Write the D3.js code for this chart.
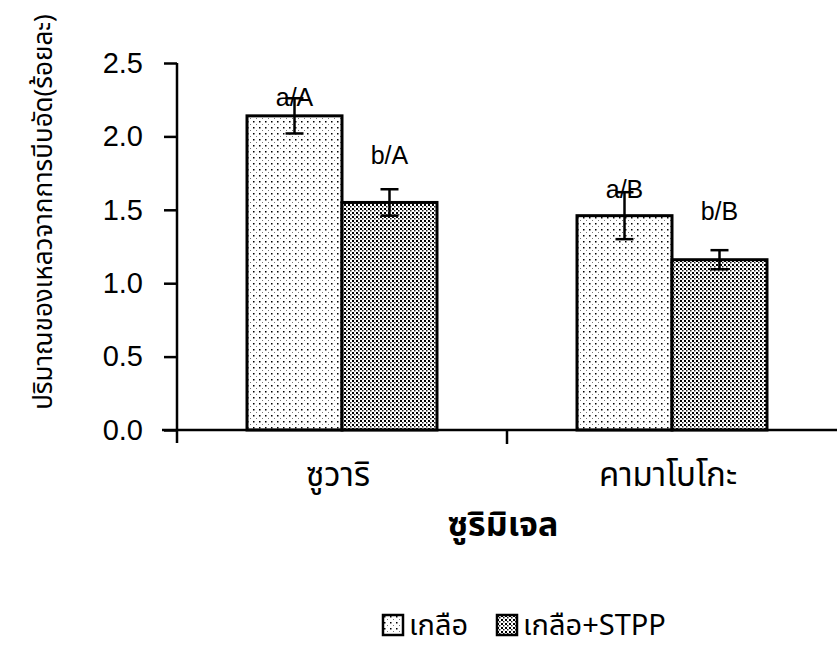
<!DOCTYPE html>
<html>
<head>
<meta charset="utf-8">
<script src="https://cdn.jsdelivr.net/npm/d3@7"></script>
<style>
  body { margin: 0; background: #fff; }
  text { font-family: "Liberation Sans", Arial, sans-serif; }
  .thai { font-family: "Noto Sans Thai", "Tahoma", "DejaVu Sans", sans-serif; }
</style>
</head>
<body>
<script>
// data
var categories = ["ซูวาริ", "คามาโบโกะ"];
var series = ["เกลือ", "เกลือ+STPP"];
var salt = [2.14, 1.46];
var saltErr = [0.12, 0.16];
var stpp = [1.55, 1.16];
var stppErr = [0.09, 0.065];
var saltLabels = ["a/A", "a/B"];
var stppLabels = ["b/A", "b/B"];
var saltLabelAt = [2.21, 1.58];   // height of the letter label, in axis units
var stppLabelAt = [1.81, 1.43];
var yTicks = [0, 0.5, 1.0, 1.5, 2.0, 2.5];

var w = 837, h = 656;
var mLeft = 177, mRight = 837, mTop = 63, mBottom = 430;

var svg = d3.select("body").append("svg")
	.attr("width", w)
	.attr("height", h);

// patterns
var defs = svg.append("defs");
var p1 = defs.append("pattern").attr("id", "sparse")
	.attr("patternUnits", "userSpaceOnUse")
	.attr("width", 6).attr("height", 6);
p1.append("rect").attr("width", 6).attr("height", 6).attr("fill", "#fff");
p1.append("rect").attr("x", 1).attr("y", 1).attr("width", 1.5).attr("height", 1.5).attr("fill", "#000");
p1.append("rect").attr("x", 4).attr("y", 4).attr("width", 1).attr("height", 1).attr("fill", "#777");

var p2 = defs.append("pattern").attr("id", "dense")
	.attr("patternUnits", "userSpaceOnUse")
	.attr("width", 4).attr("height", 4);
p2.append("rect").attr("width", 4).attr("height", 4).attr("fill", "#fff");
p2.append("rect").attr("x", 0).attr("y", 0).attr("width", 2).attr("height", 2).attr("fill", "#000");
p2.append("rect").attr("x", 2).attr("y", 2).attr("width", 1.5).attr("height", 1.5).attr("fill", "#222");

var fills = ["url(#sparse)", "url(#dense)"];

// scales
var x0 = d3.scaleBand().domain(categories).range([mLeft, mRight]);
var x1 = d3.scaleBand().domain(series).range([0, x0.bandwidth()]).paddingInner(0).paddingOuter(0.737);
var y = d3.scaleLinear().domain([0, 2.5]).range([mBottom, mTop]);

var rows = categories.map(function (c, i) {
	return [
		{cat: c, s: series[0], v: salt[i], e: saltErr[i], lab: saltLabels[i], at: saltLabelAt[i], f: fills[0]},
		{cat: c, s: series[1], v: stpp[i], e: stppErr[i], lab: stppLabels[i], at: stppLabelAt[i], f: fills[1]}
	];
});
var flat = [].concat.apply([], rows);

// bars
svg.selectAll("rect.bar")
	.data(flat)
	.enter()
	.append("rect")
	.attr("class", "bar")
	.attr("x", function (d) { return x0(d.cat) + x1(d.s); })
	.attr("y", function (d) { return y(d.v); })
	.attr("width", x1.bandwidth())
	.attr("height", function (d) { return y(0) - y(d.v); })
	.attr("fill", function (d) { return d.f; })
	.attr("stroke", "#000")
	.attr("stroke-width", 3);

// error bars
function cx(d) { return x0(d.cat) + x1(d.s) + x1.bandwidth() / 2; }
var eb = svg.selectAll("g.err")
	.data(flat)
	.enter()
	.append("g")
	.attr("class", "err")
	.attr("stroke", "#000")
	.attr("stroke-width", 2.5);
eb.append("line")
	.attr("x1", cx).attr("x2", cx)
	.attr("y1", function (d) { return y(d.v + d.e); })
	.attr("y2", function (d) { return y(d.v - d.e); });
eb.append("line")
	.attr("x1", function (d) { return cx(d) - 9; }).attr("x2", function (d) { return cx(d) + 9; })
	.attr("y1", function (d) { return y(d.v + d.e); })
	.attr("y2", function (d) { return y(d.v + d.e); });
eb.append("line")
	.attr("x1", function (d) { return cx(d) - 9; }).attr("x2", function (d) { return cx(d) + 9; })
	.attr("y1", function (d) { return y(d.v - d.e); })
	.attr("y2", function (d) { return y(d.v - d.e); });

// letter labels
svg.selectAll("text.lab")
	.data(flat)
	.enter()
	.append("text")
	.attr("class", "lab")
	.attr("x", cx)
	.attr("y", function (d) { return y(d.at); })
	.attr("text-anchor", "middle")
	.attr("font-size", "25px")
	.text(function (d) { return d.lab; });

// y axis
var yAxis = d3.axisLeft(y).tickValues(yTicks).tickFormat(d3.format(".1f")).tickSize(13).tickPadding(21);
var gy = svg.append("g").attr("transform", "translate(" + mLeft + ",0)").call(yAxis);
gy.select(".domain").remove();
gy.selectAll(".tick line").attr("stroke", "#000").attr("stroke-width", 2.5);
gy.selectAll(".tick text").attr("font-size", "29px").attr("font-family", "Liberation Sans, Arial, sans-serif").attr("fill", "#000");
svg.append("line")
	.attr("x1", mLeft).attr("x2", mLeft)
	.attr("y1", y(2.5)).attr("y2", mBottom + 13)
	.attr("stroke", "#000").attr("stroke-width", 2.5);

// x axis
svg.append("line")
	.attr("x1", mLeft - 15).attr("x2", mRight)
	.attr("y1", mBottom).attr("y2", mBottom)
	.attr("stroke", "#000").attr("stroke-width", 2.5);
svg.append("line")
	.attr("x1", x0(categories[1])).attr("x2", x0(categories[1]))
	.attr("y1", mBottom).attr("y2", mBottom + 14)
	.attr("stroke", "#000").attr("stroke-width", 2.5);

svg.selectAll("text.cat")
	.data(categories)
	.enter()
	.append("text")
	.attr("class", "cat thai")
	.attr("x", function (d) { return x0(d) + x0.bandwidth() / 2 - 4; })
	.attr("y", 486)
	.attr("text-anchor", "middle")
	.attr("font-size", "33px")
	.text(function (d) { return d; });

svg.append("text")
	.attr("class", "thai")
	.attr("x", (mLeft + mRight) / 2 - 4)
	.attr("y", 536)
	.attr("text-anchor", "middle")
	.attr("font-size", "34px")
	.attr("font-weight", "bold")
	.text("ซูริมิเจล");

svg.append("text")
	.attr("class", "thai")
	.attr("transform", "translate(52,212) rotate(-90)")
	.attr("text-anchor", "middle")
	.attr("font-size", "26px")
	.text("ปริมาณของเหลวจากการบีบอัด(ร้อยละ)");

// legend
var legX = [383, 497];
var leg = svg.selectAll("g.leg")
	.data(series)
	.enter()
	.append("g")
	.attr("class", "leg")
	.attr("transform", function (d, i) { return "translate(" + legX[i] + ",615)"; });
leg.append("rect")
	.attr("width", 20).attr("height", 20)
	.attr("fill", function (d, i) { return fills[i]; })
	.attr("stroke", "#000").attr("stroke-width", 2.5);
leg.append("text")
	.attr("class", "thai")
	.attr("x", 26).attr("y", 20)
	.attr("font-size", "29px")
	.text(function (d) { return d; });
</script>
</body>
</html>
